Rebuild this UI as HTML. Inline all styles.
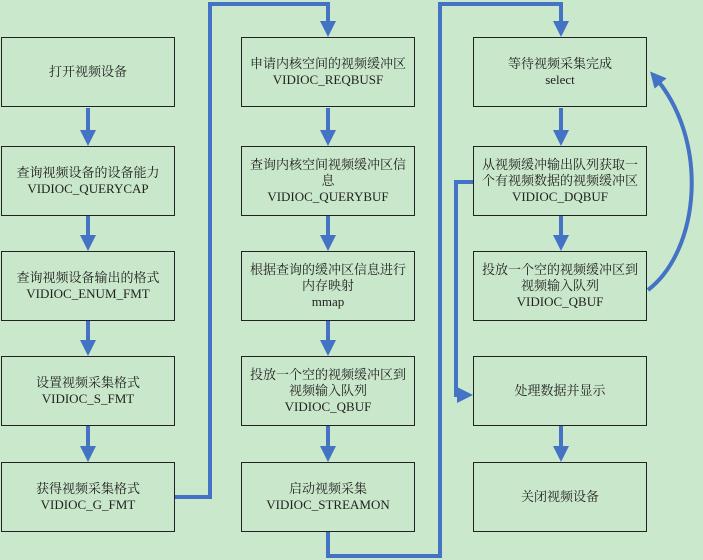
<!DOCTYPE html>
<html><head><meta charset="utf-8"><style>
body{margin:0;width:703px;height:560px;background:#cae8cb;position:relative;overflow:hidden;font-family:"Liberation Serif","Noto Serif CJK SC",serif;font-size:13px;color:#222}
.b{position:absolute;width:174px;height:70px;border:1px solid #222;box-sizing:border-box;display:flex;align-items:center;justify-content:center;text-align:center;line-height:16px;background:#c9e7ca;white-space:nowrap}
svg{position:absolute;left:0;top:0}
</style></head><body>
<svg width="703" height="560">
<defs><marker id="a" markerWidth="4" markerHeight="4" refX="2.5" refY="2" orient="auto"><path d="M0,0 L4,2 L0,4z" fill="#4472c4"/></marker></defs>
<g stroke="#4472c4" stroke-width="4" fill="none" marker-end="url(#a)">
<path d="M88,108 V140"/><path d="M88,216 V245"/><path d="M88,321 V350"/><path d="M88,425 V456"/>
<path d="M328,108 V140"/><path d="M328,216 V245"/><path d="M328,321 V350"/><path d="M328,425 V456"/>
<path d="M561,108 V140"/><path d="M561,216 V245"/><path d="M561,425 V456"/>
<path d="M175,497 H210 V4 H328 V31"/>
<path d="M328,532 V556 H440 V4 H561 V31"/>
<path d="M473,182 H456 V395 H467"/>
<path d="M648,290 C700,250 710,140 654,76"/>
</g></svg>
<div class="b" style="left:1px;top:37px">打开视频设备</div>
<div class="b" style="left:1px;top:146px">查询视频设备的设备能力<br>VIDIOC_QUERYCAP</div>
<div class="b" style="left:1px;top:251px">查询视频设备输出的格式<br>VIDIOC_ENUM_FMT</div>
<div class="b" style="left:1px;top:356px">设置视频采集格式<br>VIDIOC_S_FMT</div>
<div class="b" style="left:1px;top:462px">获得视频采集格式<br>VIDIOC_G_FMT</div>
<div class="b" style="left:241px;top:37px">申请内核空间的视频缓冲区<br>VIDIOC_REQBUSF</div>
<div class="b" style="left:241px;top:146px">查询内核空间视频缓冲区信<br>息<br>VIDIOC_QUERYBUF</div>
<div class="b" style="left:241px;top:251px">根据查询的缓冲区信息进行<br>内存映射<br>mmap</div>
<div class="b" style="left:241px;top:356px">投放一个空的视频缓冲区到<br>视频输入队列<br>VIDIOC_QBUF</div>
<div class="b" style="left:241px;top:462px">启动视频采集<br>VIDIOC_STREAMON</div>
<div class="b" style="left:473px;top:37px">等待视频采集完成<br>select</div>
<div class="b" style="left:473px;top:146px">从视频缓冲输出队列获取一<br>个有视频数据的视频缓冲区<br>VIDIOC_DQBUF</div>
<div class="b" style="left:473px;top:251px">投放一个空的视频缓冲区到<br>视频输入队列<br>VIDIOC_QBUF</div>
<div class="b" style="left:473px;top:356px">处理数据并显示</div>
<div class="b" style="left:473px;top:462px">关闭视频设备</div>
</body></html>
